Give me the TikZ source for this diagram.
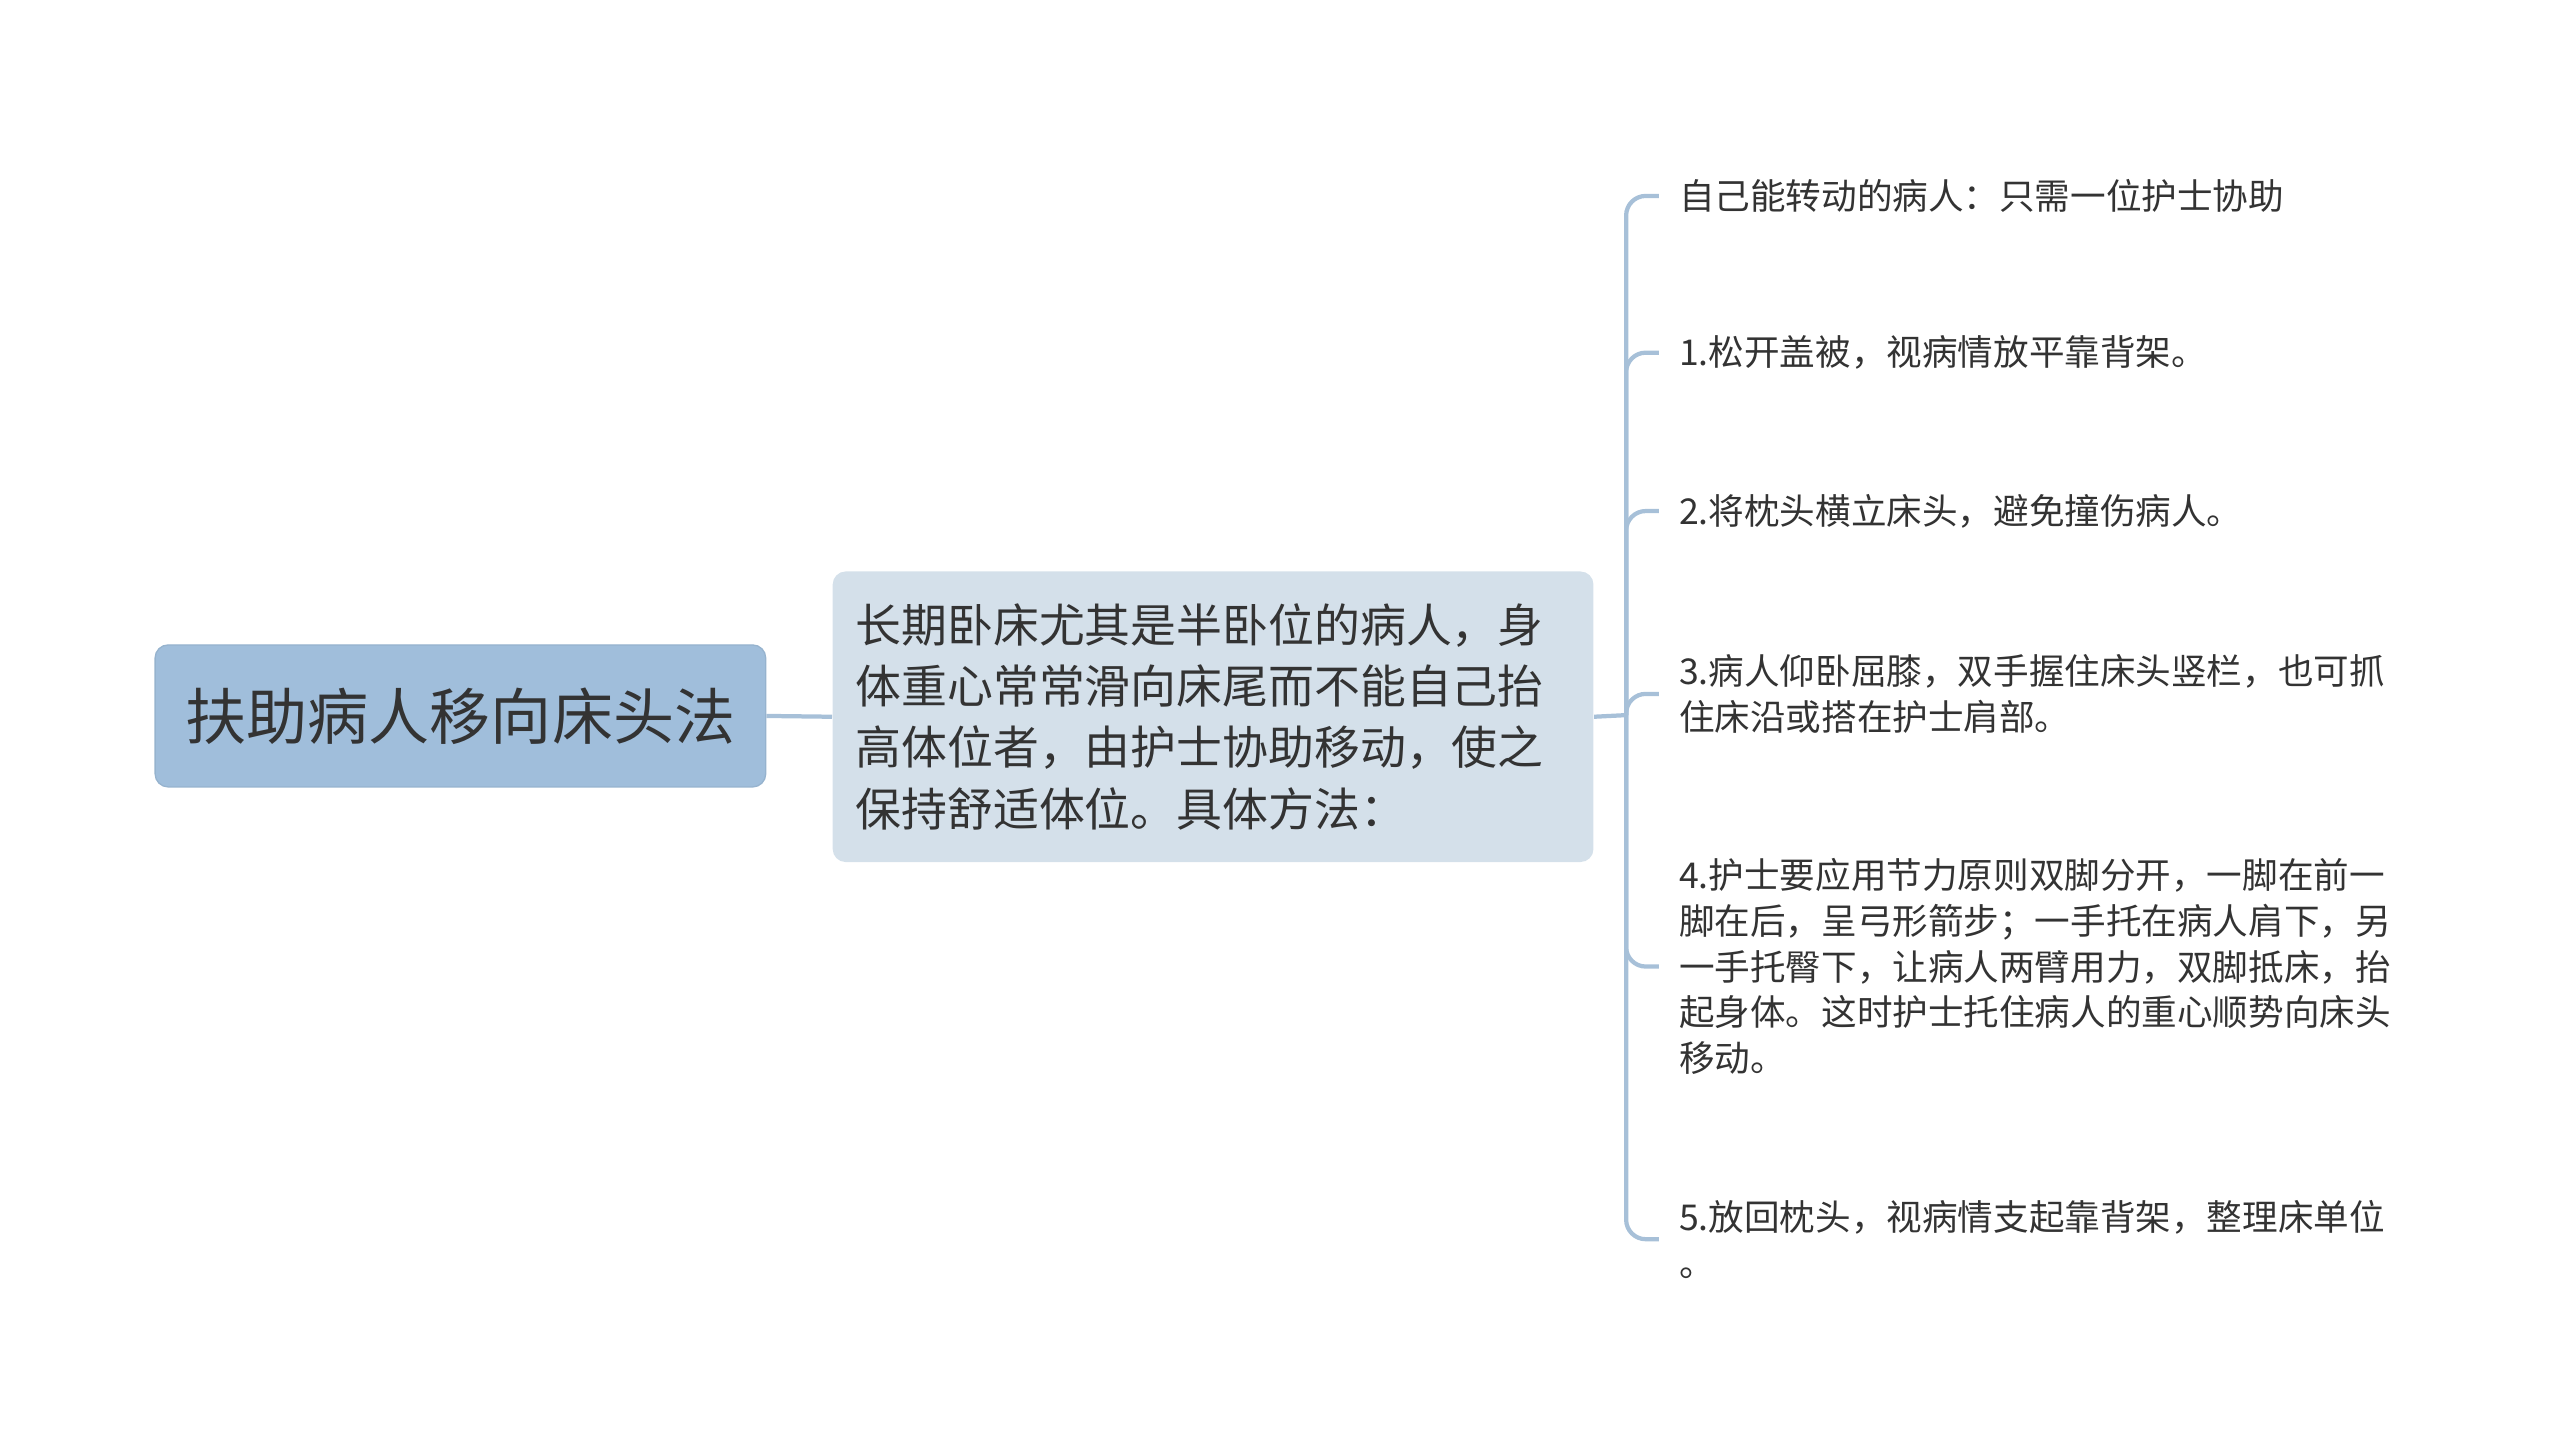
\documentclass[tikz,border=0pt]{standalone}
\usepackage{fontspec}
\setmainfont{Noto Sans CJK SC}
\usetikzlibrary{calc}
\definecolor{linec}{HTML}{A7C0D8}
\definecolor{rootfill}{HTML}{A0BEDB}
\definecolor{midfill}{HTML}{D4E0EA}
\definecolor{txt}{HTML}{333333}
\begin{document}
\begin{tikzpicture}[x=0.5pt,y=-0.5pt,
  conn/.style={draw=linec,line width=1.3pt,rounded corners=6pt},
  rootbox/.style={fill=rootfill,draw=rootfill!90!black!60!rootfill,rounded corners=4pt,minimum width=187pt,minimum height=43.5pt,inner sep=0pt,text=txt,font=\fontsize{18.7pt}{22pt}\selectfont},
  midbox/.style={fill=midfill,rounded corners=4pt,text width=219pt,align=left,inner xsep=7pt,inner ysep=0pt,minimum height=89pt,text=txt,font=\fontsize{14.05pt}{18.75pt}\selectfont},
  leaf/.style={anchor=west,align=left,inner sep=0pt,text=txt,font=\fontsize{10.9pt}{14pt}\selectfont}
]
\useasboundingbox (-1,-1) rectangle (1567,889.5);
\node[rootbox] (root) at (281,437.5) {扶助病人移向床头法};
\node[midbox] (mid) at (742,438) {长期卧床尤其是半卧位的病人，身\\体重心常常滑向床尾而不能自己抬\\高体位者，由护士协助移动，使之\\保持舒适体位。具体方法：};
\node[leaf] (r1) at (1027,119) {自己能转动的病人：只需一位护士协助};
\node[leaf] (r2) at (1027,215) {1.松开盖被，视病情放平靠背架。};
\node[leaf] (r3) at (1027,312) {2.将枕头横立床头，避免撞伤病人。};
\node[leaf] (r4) at (1027,424) {3.病人仰卧屈膝，双手握住床头竖栏，也可抓\\住床沿或搭在护士肩部。};
\node[leaf] (r5) at (1027,591) {4.护士要应用节力原则双脚分开，一脚在前一\\脚在后，呈弓形箭步；一手托在病人肩下，另\\一手托臀下，让病人两臂用力，双脚抵床，抬\\起身体。这时护士托住病人的重心顺势向床头\\移动。};
\node[leaf] (r6) at (1027,758) {5.放回枕头，视病情支起靠背架，整理床单位\\。};
\coordinate (trunk) at (995,437);
\draw[conn] (root.east) -- (mid.west);
\draw[conn] (mid.east) -- (trunk);
\foreach \r in {r1,r2,r3,r4,r5,r6}{
  \draw[conn] (trunk) |- ($(\r.west)+(-12,0)$);
}
\end{tikzpicture}
\end{document}
